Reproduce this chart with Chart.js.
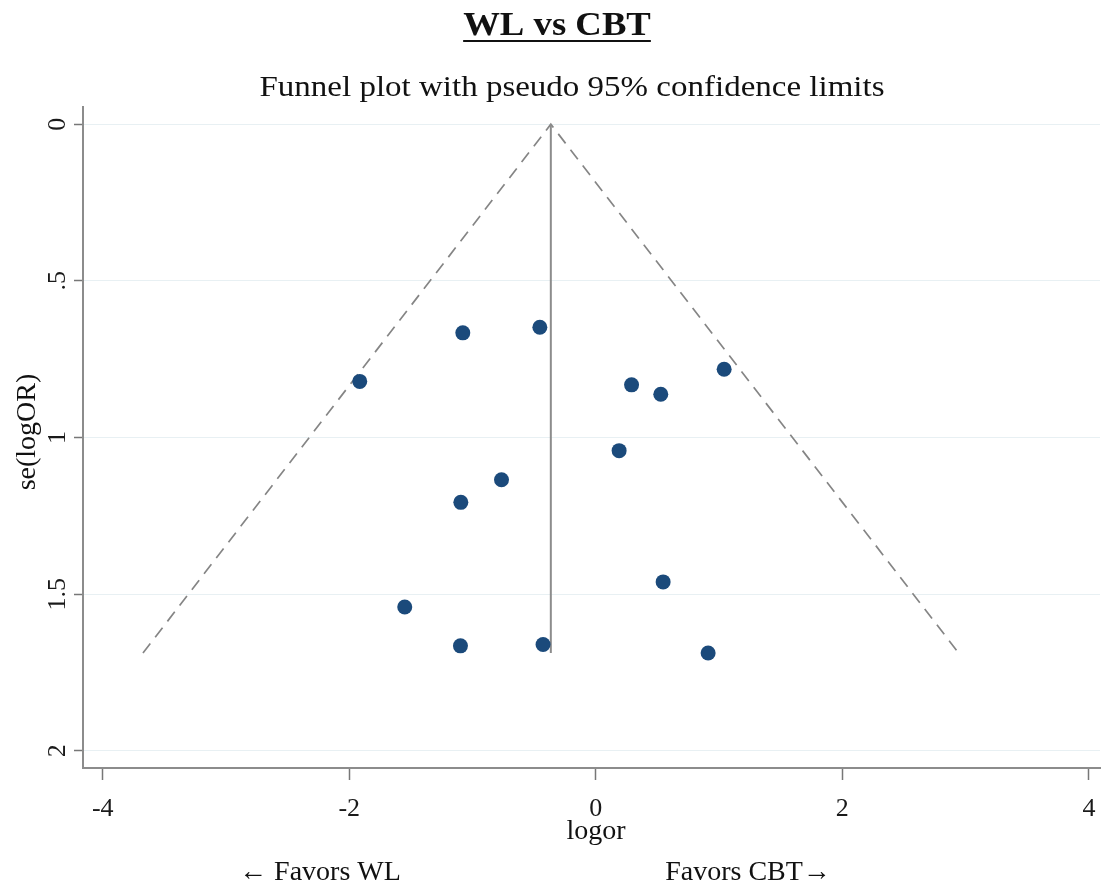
<!DOCTYPE html>
<html>
<head>
<meta charset="utf-8">
<script src="https://cdn.jsdelivr.net/npm/chart.js@4"></script>
<style>
  html, body { margin: 0; padding: 0; background: #fff; }
  canvas { display: block; }
</style>
</head>
<body>
<canvas id="funnel" width="1103" height="888"></canvas>
<script>
// 各研究の対数オッズ比 (logor) と標準誤差 se(logOR)
const logOR   = [-1.079, -0.454, -1.915, 1.041, 0.290, 0.527, 0.189, -0.765, -1.095, 0.546, -1.550, -1.098, -0.428, 0.911];
const seLogOR = [ 0.666,  0.648,  0.821, 0.782, 0.832, 0.862, 1.042,  1.135,  1.207, 1.461,  1.541,  1.665,  1.661, 1.688];

// 統合推定値
const pooledLogOR = -0.365;

// 目盛り
const xTicks = [-4, -2, 0, 2, 4];
const xTickLabels = ['-4', '-2', '0', '2', '4'];
const yTicks = [0, 0.5, 1, 1.5, 2];
const yTickLabels = ['0', '.5', '1', '1.5', '2'];

const SERIF = '"Liberation Serif", "DejaVu Serif", serif';

// 点データ
const points = logOR.map((x, i) => ({ x: x, y: seLogOR[i] }));

// 擬似95%信頼限界 (pooled ± 1.96 * se)
const maxSe = Math.max(...seLogOR);
const limitLine = [
    { x: pooledLogOR - 1.96 * maxSe, y: maxSe },
    { x: pooledLogOR, y: 0 },
    { x: pooledLogOR + 1.96 * maxSe, y: maxSe }
];
const pooledLine = [
    { x: pooledLogOR, y: 0 },
    { x: pooledLogOR, y: maxSe }
];

// テキストを描く (横方向の伸縮つき)
function drawText(ctx, text, x, y, opts) {
    const sx = opts.sx || 1;
    ctx.save();
    ctx.translate(x, y);
    if (opts.rotate) ctx.rotate(opts.rotate);
    ctx.scale(sx, 1);
    ctx.font = opts.font;
    ctx.fillStyle = opts.color || '#111';
    ctx.textAlign = 'center';
    ctx.textBaseline = 'alphabetic';
    ctx.fillText(text, 0, 0);
    const w = ctx.measureText(text).width * sx;
    ctx.restore();
    return w;
}

// タイトル・目盛りラベル・軸ラベル
const labelPlugin = {
    id: 'funnelLabels',
    afterDraw(chart) {
        const ctx = chart.ctx;
        const xScale = chart.scales.x;
        const yScale = chart.scales.y;

        // タイトル (下線つき)
        const tw = drawText(ctx, 'WL vs CBT', 557, 35, { font: 'bold 34px ' + SERIF, sx: 1.08 });
        ctx.save();
        ctx.strokeStyle = '#111';
        ctx.lineWidth = 2;
        ctx.beginPath();
        ctx.moveTo(557 - tw / 2, 41);
        ctx.lineTo(557 + tw / 2, 41);
        ctx.stroke();
        ctx.restore();

        drawText(ctx, 'Funnel plot with pseudo 95% confidence limits', 572, 96, { font: '30px ' + SERIF, sx: 1.1 });

        // x軸の目盛りラベル
        xTicks.forEach((v, i) => {
            const px = xScale.getPixelForValue(v);
            drawText(ctx, xTickLabels[i], px, 816, { font: '26px ' + SERIF, color: '#1a1a1a' });
        });

        // y軸の目盛りラベル (縦書き)
        yTicks.forEach((v, i) => {
            const py = yScale.getPixelForValue(v);
            drawText(ctx, yTickLabels[i], 65, py, { font: '26px ' + SERIF, rotate: -Math.PI / 2, color: '#1a1a1a' });
        });

        // 軸タイトル
        drawText(ctx, 'se(logOR)', 35, 432, { font: '28px ' + SERIF, rotate: -Math.PI / 2 });
        drawText(ctx, 'logor', 596, 839, { font: '28px ' + SERIF });

        drawText(ctx, '\u2190 Favors WL', 320, 880, { font: '28px ' + SERIF });
        drawText(ctx, 'Favors CBT\u2192', 748, 880, { font: '28px ' + SERIF });
    }
};

const ctx = document.getElementById('funnel').getContext('2d');
const chart = new Chart(ctx, {
    type: 'scatter',
    data: {
        datasets: [
            {
                label: 'studies',
                data: points,
                backgroundColor: '#1b4a7b',
                borderWidth: 0,
                pointRadius: 7.5,
                pointHoverRadius: 7.5,
                order: 0
            },
            {
                label: 'pooled',
                data: pooledLine,
                showLine: true,
                borderColor: '#8c8c8c',
                borderWidth: 2,
                pointRadius: 0,
                order: 1
            },
            {
                label: 'limits',
                data: limitLine,
                showLine: true,
                borderColor: '#858585',
                borderWidth: 1.7,
                borderDash: [12, 8],
                pointRadius: 0,
                order: 2
            }
        ]
    },
    options: {
        responsive: false,
        animation: false,
        layout: {
            autoPadding: false,
            padding: { top: 107, right: 3, left: 0, bottom: 0 }
        },
        plugins: {
            legend: { display: false },
            tooltip: { enabled: false }
        },
        scales: {
            x: {
                type: 'linear',
                min: -4.16,
                max: 4.09,
                afterBuildTicks: s => { s.ticks = xTicks.map(v => ({ value: v })); },
                afterFit: s => { s.height = 120; },
                grid: { drawOnChartArea: false, tickLength: 12, tickColor: '#777', tickWidth: 1.5 },
                border: { color: '#8c8c8c', width: 2 },
                ticks: { display: false }
            },
            y: {
                type: 'linear',
                reverse: true,
                min: -0.055,
                max: 2.055,
                afterBuildTicks: s => { s.ticks = yTicks.map(v => ({ value: v })); },
                afterFit: s => { s.width = 83; },
                grid: { color: '#e8f0f3', lineWidth: 1, tickLength: 9, tickColor: '#777', tickWidth: 1.5 },
                border: { color: '#8c8c8c', width: 2 },
                ticks: { display: false }
            }
        }
    },
    plugins: [labelPlugin]
});
</script>
</body>
</html>
